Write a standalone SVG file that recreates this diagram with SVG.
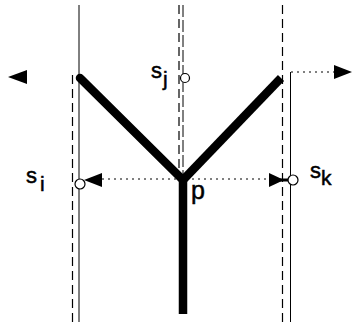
<svg xmlns="http://www.w3.org/2000/svg" width="353" height="322" viewBox="0 0 353 322">
<style>
.thin{stroke:#000;stroke-width:1;fill:none}
.dash{stroke:#000;stroke-width:1.2;fill:none;stroke-dasharray:9 5}
.dot{stroke:#000;stroke-width:1;fill:none;stroke-dasharray:2 4}
.arm{stroke:#000;stroke-width:8.5;fill:none}
.head{fill:#000}
.pt{fill:#fff;stroke:#000;stroke-width:1.2}
text{font-family:"Liberation Sans",Arial,sans-serif;fill:#000;stroke:#000;stroke-width:0.5}
</style>
<g id="guides">
<line class="thin" x1="79" y1="5" x2="79" y2="322"/>
<line class="dash" x1="72.5" y1="75" x2="72.5" y2="322"/>
<line class="dash" x1="179" y1="5" x2="179" y2="176"/>
<line class="thin" x1="183" y1="5" x2="183" y2="176" stroke-dasharray="12 3"/>
<line class="dash" x1="282.5" y1="5" x2="282.5" y2="322"/>
<line class="thin" x1="290.5" y1="72" x2="290.5" y2="322" stroke="#555"/>
</g>
<g id="y-shape">
<line class="arm" x1="80" y1="78" x2="183" y2="180" stroke-linecap="round"/>
<line class="arm" x1="183" y1="180" x2="281" y2="78"/>
<line class="arm" x1="183" y1="176" x2="183" y2="314"/>
</g>
<g id="connectors">
<line class="dot" x1="102" y1="179" x2="269" y2="179"/>
<line class="dot" x1="291" y1="72" x2="334" y2="72"/>
<polygon class="head" points="8,77 27,70 27,84"/>
<polygon class="head" points="352,72 334,65 334,79"/>
<polygon class="head" points="84,180 102,173 102,187"/>
<polygon class="head" points="284,180 269,173 269,187"/>
<line stroke="#000" stroke-width="3" x1="280" y1="180" x2="289" y2="180"/>
</g>
<g id="node-si">
<circle class="pt" cx="80" cy="184" r="5"/>
<text x="26" y="183" font-size="22">s</text>
<text x="40" y="191" font-size="21">i</text>
</g>
<g id="node-sj">
<circle class="pt" cx="185" cy="78" r="4.5"/>
<text x="151" y="78" font-size="22">s</text>
<text x="163" y="86" font-size="21">j</text>
</g>
<g id="node-sk">
<circle class="pt" cx="293" cy="180" r="5"/>
<text x="310" y="178" font-size="22">s</text>
<text x="321" y="185" font-size="21">k</text>
</g>
<g id="node-p">
<text x="191" y="199" font-size="25">p</text>
</g>
</svg>
